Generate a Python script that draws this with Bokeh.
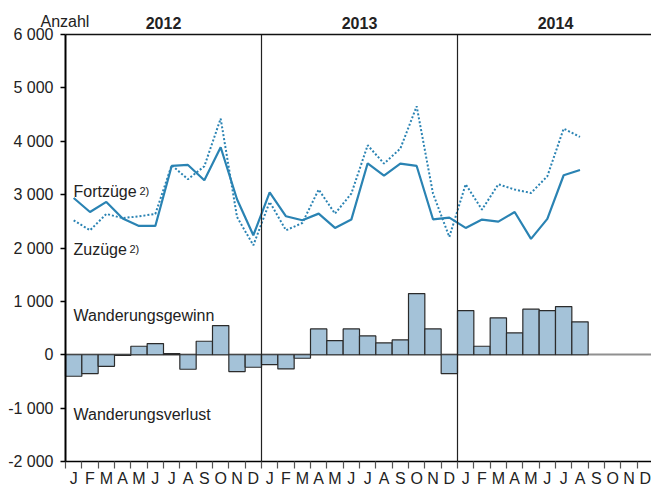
from bokeh.plotting import figure
from bokeh.models import Range1d, FixedTicker, LinearAxis, Label
from bokeh.embed import file_html
from bokeh.resources import INLINE

# ---- data ----
months = ["J", "F", "M", "A", "M", "J", "J", "A", "S", "O", "N", "D"] * 3
years = ["2012", "2013", "2014"]
fortzuege = [2937, 2675, 2863, 2551, 2413, 2413, 3537, 3556, 3269, 3887, 2913, 2239,
             3044, 2594, 2519, 2644, 2376, 2532, 3587, 3356, 3581, 3537, 2538, 2569,
             2376, 2532, 2494, 2675, 2170, 2545, 3363, 3462]
zuzuege = [2519, 2332, 2638, 2560, 2594, 2638, 3550, 3288, 3531, 4425, 2582, 2051,
           2863, 2332, 2469, 3095, 2644, 3020, 3925, 3581, 3862, 4655, 3020, 2207,
           3194, 2719, 3194, 3095, 3031, 3344, 4237, 4081]
saldo = [-403, -353, -216, -10, 159, 209, 22, -272, 253, 547, -316, -234,
         -184, -266, -66, 484, 266, 484, 353, 222, 278, 1147, 484, -353,
         828, 159, 691, 409, 853, 828, 903, 616]
y_ticks = [-2000, -1000, 0, 1000, 2000, 3000, 4000, 5000, 6000]
y_tick_labels = ["-2 000", "-1 000", "0", "1 000", "2 000", "3 000", "4 000", "5 000", "6 000"]

FONT = "Liberation Sans"
TXT = "#222222"
LINE_C = "#2a83b3"
BAR_C = "#a4c2d8"

W, H = 651, 486
n_months = len(months)
idx = list(range(n_months))
data_idx = idx[:len(fortzuege)]

# pixel layout of the plotting area (left, top, bottom in px)
PX_LEFT, PX_TOP, PX_BOTTOM = 65, 34, 461
px_per_month = 196 / 12.0
px_per_unit = (PX_BOTTOM - PX_TOP) / float(y_ticks[-1] - y_ticks[0])
x0 = -0.5 - PX_LEFT / px_per_month
x1 = -0.5 + (W - PX_LEFT) / px_per_month
y1 = y_ticks[-1] + PX_TOP / px_per_unit
y0 = y_ticks[0] - (H - PX_BOTTOM) / px_per_unit

p = figure(width=W, height=H, output_backend="svg", toolbar_location=None,
           x_range=Range1d(x0, x1), y_range=Range1d(y0, y1),
           x_axis_type=None, y_axis_type=None,
           min_border_left=0, min_border_right=0, min_border_top=0, min_border_bottom=0)
p.extra_x_ranges = {"yr": Range1d(2 * x0, 2 * x1)}
p.outline_line_color = None
p.xgrid.visible = False
p.ygrid.visible = False
p.background_fill_color = "white"

# zero line (as an axis without ticks)
zax = LinearAxis(ticker=FixedTicker(ticks=[]), fixed_location=0, bounds=(-0.5, x1))
zax.axis_line_color = "#909090"
zax.axis_line_width = 2
zax.major_tick_out = 0
zax.major_tick_in = 0
zax.minor_tick_out = 0
zax.minor_tick_in = 0
zax.major_label_text_font_size = "0px"
zax.level = "underlay"
p.add_layout(zax, "below")

# y axis
yax = LinearAxis(ticker=FixedTicker(ticks=y_ticks), fixed_location=-0.5,
                 bounds=(y_ticks[0], y_ticks[-1]),
                 major_label_overrides={t: l for t, l in zip(y_ticks, y_tick_labels)})
yax.axis_line_width = 2
yax.axis_line_color = "black"
yax.major_tick_in = 0
yax.major_tick_out = 5
yax.major_tick_line_width = 1.5
yax.minor_tick_out = 0
yax.minor_tick_in = 0
yax.major_label_standoff = 7
yax.major_label_text_font = FONT
yax.major_label_text_font_size = "16px"
yax.major_label_text_color = TXT
p.add_layout(yax, "left")

# x axis (months)
xax = LinearAxis(ticker=FixedTicker(ticks=idx, minor_ticks=[i - 0.5 for i in range(n_months + 1)]),
                 fixed_location=y_ticks[0], bounds=(-0.5, n_months - 0.5),
                 major_label_overrides={i: m for i, m in zip(idx, months)})
xax.axis_line_color = "black"
xax.axis_line_width = 1.5
xax.major_tick_in = 0
xax.major_tick_out = 0
xax.minor_tick_in = 0
xax.minor_tick_out = 7
xax.minor_tick_line_color = "#555555"
xax.minor_tick_line_width = 1.2
xax.major_label_standoff = 1
xax.major_label_text_font = FONT
xax.major_label_text_font_size = "16px"
xax.major_label_text_color = TXT
p.add_layout(xax, "below")

# top axis (years)
year_ticks = [24 * k + 11 for k in range(len(years))]
tax = LinearAxis(x_range_name="yr", ticker=FixedTicker(ticks=year_ticks),
                 fixed_location=y_ticks[-1], bounds=(-1, 2 * n_months - 1),
                 major_label_overrides={t: y for t, y in zip(year_ticks, years)})
tax.axis_line_color = "#111111"
tax.axis_line_width = 1.5
tax.major_tick_in = 0
tax.major_tick_out = 0
tax.minor_tick_in = 0
tax.minor_tick_out = 0
tax.major_label_standoff = 6
tax.major_label_text_font = FONT
tax.major_label_text_font_size = "16px"
tax.major_label_text_font_style = "bold"
tax.major_label_text_color = TXT
p.add_layout(tax, "above")

# bars
p.vbar(x=data_idx, top=saldo, bottom=0, width=1.0, fill_color=BAR_C,
       line_color="#2b2b2b", line_width=1.2)

# lines
p.line(data_idx, zuzuege, line_color=LINE_C, line_width=2, line_dash="2 2")
p.line(data_idx, fortzuege, line_color=LINE_C, line_width=2.2)

# year separators
for k in range(1, len(years)):
    p.segment(x0=[12 * k - 0.5], y0=[y_ticks[0]], x1=[12 * k - 0.5], y1=[y_ticks[-1]],
              line_color="#222222", line_width=1.2)

# Anzahl
p.add_layout(Label(x=-0.5, y=y_ticks[-1], x_offset=-25, y_offset=13, text="Anzahl",
                   text_align="left", text_baseline="alphabetic", text_font=FONT,
                   text_font_size="16px", text_color=TXT))

# series labels
def lab(txt, yv, xoff=8, size="16px"):
    p.add_layout(Label(x=-0.5, y=yv, x_offset=xoff, text=txt, text_align="left",
                       text_baseline="alphabetic", text_font=FONT, text_font_size=size,
                       text_color=TXT))

lab("Fortzüge", 3063)
lab("2)", 3063, xoff=74, size="11px")
lab("Zuzüge", 1977)
lab("2)", 1977, xoff=64, size="11px")
lab("Wanderungsgewinn", 740)
lab("Wanderungsverlust", -1115)

open("out.html", "w").write(file_html(p, INLINE))
